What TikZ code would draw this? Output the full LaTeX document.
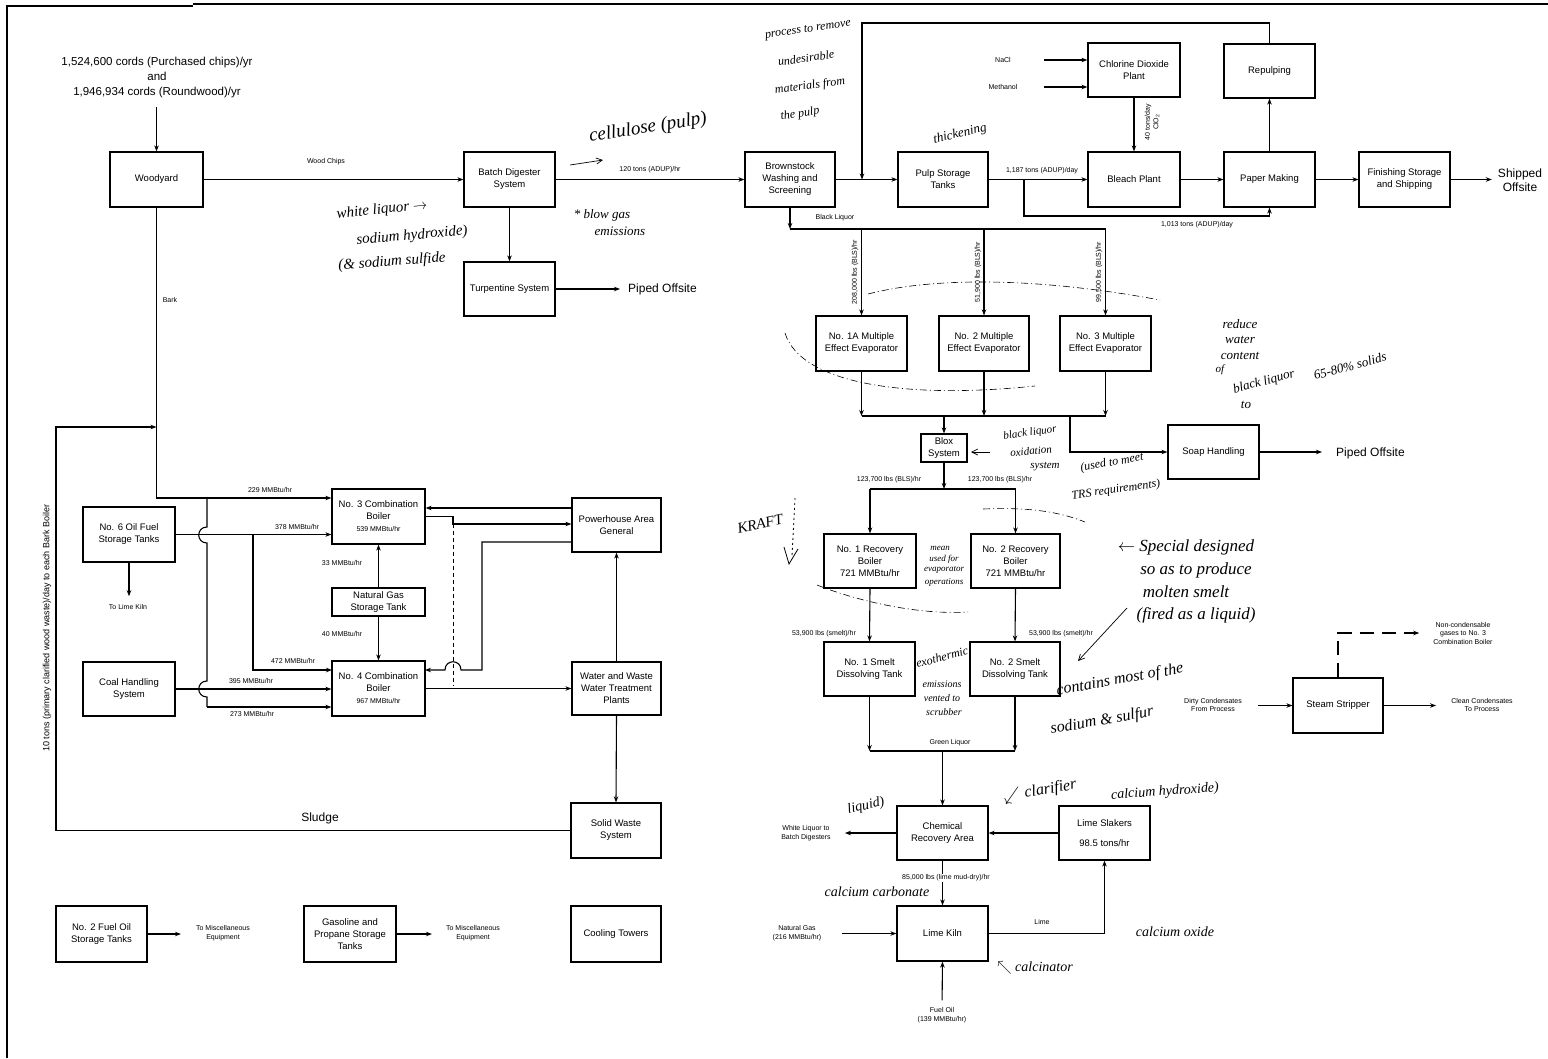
\documentclass[tikz,border=0pt]{standalone}
\usepackage{fontspec}
\setmainfont{Liberation Sans}
\newfontfamily\handfont{Liberation Serif}
\usetikzlibrary{arrows.meta}
\newcommand\bx[6]{\node[box,minimum width={#4-#2},minimum height={#5-#3}] (#1) at ({(#2+#4)/2},{(#3+#5)/2}) {#6};}
\newcommand\hsz[1]{\handfont\itshape\fontsize{#1}{#1}\selectfont}
\begin{document}
\begin{tikzpicture}[x=1pt,y=-1pt,
  box/.style={draw,line width=1.2pt,align=center,inner sep=0pt,font=\fontsize{9.5}{12}\selectfont},
  lbl/.style={font=\fontsize{7}{8.5}\selectfont,align=center,inner sep=0pt},
  big/.style={font=\fontsize{12}{14}\selectfont,align=center,inner sep=0pt},
  ln/.style={line width=1.1pt},
  ar/.style={line width=1.1pt,-{Stealth[length=6pt,width=4.5pt]}},
  hw/.style={font=\hsz{15},align=left,inner sep=0pt},
  hwline/.style={line width=0.6pt,dash pattern=on 7pt off 3pt on 1pt off 3pt},
  harrow/.style={line width=0.7pt,-{Straight Barb[length=6pt,width=6pt]}}
]
\useasboundingbox (0,0) rectangle (1548,1058);
\fill[white] (0,0) rectangle (1548,1058);
% frame
\draw[line width=1.2pt] (7,1058) -- (7,6) -- (193,6);
\draw[line width=2pt] (193,4) -- (1548,4);

% ---------- boxes ----------
\bx{wood}{110}{152}{203}{207}{Woodyard}
\bx{batch}{464}{152}{555}{207}{Batch Digester\\System}
\bx{turp}{464}{262}{555}{316}{Turpentine System}
\bx{brown}{745}{152}{835}{207}{Brownstock\\Washing and\\Screening}
\bx{pulp}{898}{152}{988}{207}{Pulp Storage\\Tanks}
\bx{cdp}{1088}{43}{1180}{97}{Chlorine Dioxide\\Plant}
\bx{bleach}{1088}{152}{1180}{207}{Bleach Plant}
\bx{repulp}{1224}{44}{1315}{98}{Repulping}
\bx{paper}{1224}{152}{1315}{207}{Paper Making}
\bx{finish}{1359}{152}{1450}{207}{Finishing Storage\\and Shipping}
\bx{evA}{816}{316}{907}{371}{No. 1A Multiple\\Effect Evaporator}
\bx{evB}{939}{316}{1029}{371}{No. 2 Multiple\\Effect Evaporator}
\bx{evC}{1060}{316}{1151}{371}{No. 3 Multiple\\Effect Evaporator}
\bx{blox}{921}{434}{967}{462}{Blox\\System}
\bx{soap}{1168}{425}{1259}{479}{Soap Handling}
\bx{recA}{824}{534}{916}{588}{No. 1 Recovery\\Boiler\\721 MMBtu/hr}
\bx{recB}{971}{534}{1060}{588}{No. 2 Recovery\\Boiler\\721 MMBtu/hr}
\bx{smA}{824}{642}{915}{696}{No. 1 Smelt\\Dissolving Tank}
\bx{smB}{970}{642}{1060}{696}{No. 2 Smelt\\Dissolving Tank}
\bx{chem}{897}{806}{988}{860}{Chemical\\Recovery Area}
\bx{slak}{1059}{806}{1150}{860}{Lime Slakers\\[8pt]98.5 tons/hr}
\bx{kiln}{897}{906}{988}{961}{Lime Kiln}
\bx{strip}{1293}{678}{1383}{733}{Steam Stripper}
\bx{oilsix}{83}{507}{175}{562}{No. 6 Oil Fuel\\Storage Tanks}
\bx{coal}{83}{662}{175}{716}{Coal Handling\\System}
\bx{cbA}{332}{489}{425}{544}{No. 3 Combination\\Boiler\\{\fontsize{7}{9}\selectfont 539 MMBtu/hr}}
\bx{ngst}{332}{588}{425}{616}{Natural Gas\\Storage Tank}
\bx{cbB}{332}{661}{425}{716}{No. 4 Combination\\Boiler\\{\fontsize{7}{9}\selectfont 967 MMBtu/hr}}
\bx{power}{572}{498}{661}{552}{Powerhouse Area\\General}
\bx{water}{572}{662}{661}{715}{Water and Waste\\Water Treatment\\Plants}
\bx{solid}{571}{803}{661}{858}{Solid Waste\\System}
\bx{fotwo}{56}{906}{147}{962}{No. 2 Fuel Oil\\Storage Tanks}
\bx{gas}{304}{906}{396}{962}{Gasoline and\\Propane Storage\\Tanks}
\bx{cool}{571}{906}{661}{962}{Cooling Towers}

% ---------- free texts ----------
\node[big,font=\fontsize{11.5}{15}\selectfont] (src) at (157,78) {1,524,600 cords (Purchased chips)/yr\\and\\1,946,934 cords (Roundwood)/yr};
\node[big,anchor=west] (poA) at (628,289) {Piped Offsite};
\node[big,anchor=west] (poB) at (1336,453) {Piped Offsite};
\node[big] (ship) at (1520,180) {Shipped\\Offsite};
\node[lbl] (nacl) at (1003,60) {NaCl};
\node[lbl] (meth) at (1003,87) {Methanol};
\node[lbl] at (326,162) {Wood Chips};
\node[lbl] at (650,170) {120 tons (ADUP)/hr};
\node[lbl] at (1042,171) {1,187 tons (ADUP)/day};
\node[lbl] at (1197,225) {1,013 tons (ADUP)/day};
\node[lbl,rotate=90] at (1152,122) {40 tons/day\\ClO\textsubscript{2}};
\node[lbl] at (835,218) {Black Liquor};
\node[lbl,rotate=90] at (855,272) {208,000 lbs (BLS)/hr};
\node[lbl,rotate=90] at (978,272) {51,900 lbs (BLS)/hr};
\node[lbl,rotate=90] at (1099,272) {99,500 lbs (BLS)/hr};
\node[lbl] at (889,480) {123,700 lbs (BLS)/hr};
\node[lbl] at (1000,480) {123,700 lbs (BLS)/hr};
\node[lbl] at (824,634) {53,900 lbs (smelt)/hr};
\node[lbl] at (1061,634) {53,900 lbs (smelt)/hr};
\node[lbl] at (950,743) {Green Liquor};
\node[lbl] (wl) at (806,833) {White Liquor to\\Batch Digesters};
\node[lbl] (natg) at (797,933) {Natural Gas\\(216 MMBtu/hr)};
\node[lbl] (fuel) at (942,1015) {Fuel Oil\\(139 MMBtu/hr)};
\node[lbl] (dirty) at (1213,705) {Dirty Condensates\\From Process};
\node[lbl] (clean) at (1482,705) {Clean Condensates\\To Process};
\node[lbl] (noncond) at (1463,633) {Non-condensable\\gases to No. 3\\Combination Boiler};
\node[lbl] at (170,300) {Bark};
\node[lbl] at (270,490) {229 MMBtu/hr};
\node[lbl] at (297,527) {378 MMBtu/hr};
\node[lbl] at (293,661) {472 MMBtu/hr};
\node[lbl] at (251,681) {395 MMBtu/hr};
\node[lbl] at (252,714) {273 MMBtu/hr};
\node[lbl] at (342,563) {33 MMBtu/hr};
\node[lbl] at (342,634) {40 MMBtu/hr};
\node[lbl] (tlk) at (128,607) {To Lime Kiln};
\node[lbl] (tmA) at (223,933) {To Miscellaneous\\Equipment};
\node[lbl] (tmB) at (473,933) {To Miscellaneous\\Equipment};
\node[font=\fontsize{12}{14}\selectfont] at (320,818) {Sludge};
\node[font=\fontsize{9}{10}\selectfont,rotate=90] at (47,628) {10 tons (primary clarified wood waste)/day to each Bark Boiler};

% ---------- connectors: top row ----------
\coordinate (srcb) at (156.5,107);
\draw[ar] (srcb) -- (wood.north);
\draw[ar] (wood.east) -- (batch.west);
\draw[ar] (batch.south) -- (turp.north);
\draw[ar,shorten >=8pt] (turp.east) -- (turp.east -| poA.west);
\draw[ar] (batch.east) -- (brown.west);
\draw[ar] (brown.east) -- (pulp.west);
\coordinate (topL) at (862,23);
\coordinate (jA) at (862,179.5);
\draw[ar] (repulp.north) |- (topL) -- (jA);
\draw[ar] (pulp.east) -- (bleach.west);
\coordinate (jB) at (1024,179.5);
\coordinate (jBb) at (1024,216);
\draw[ar] (jB) -- (jBb) -| (paper.south);
\draw[ar] (bleach.east) -- (paper.west);
\draw[ar] (paper.east) -- (finish.west);
\draw[ar,shorten >=6pt] (finish.east) -- (finish.east -| ship.west);
\draw[ar] (cdp.south) -- (bleach.north);
\draw[ar] (paper.north) -- (repulp.south);
\coordinate (naA) at (1044,60);
\coordinate (naB) at (1044,87);
\draw[ar] (naA) -- (naA -| cdp.west);
\draw[ar] (naB) -- (naB -| cdp.west);

% ---------- black liquor / evaporators ----------
\coordinate (bl) at (790,229);
\draw[ar] (brown.south) -- (bl);
\draw[ln] (bl) -- (bl -| evC.north);
\foreach \e in {evA,evB,evC} \draw[ar] (bl -| \e.north) -- (\e.north);
\coordinate (eb) at (862,416);
\foreach \e in {evA,evB,evC} \draw[ar] (\e.south) -- (eb -| \e.south);
\draw[ln] (eb -| evA.south) -- (eb -| evC.south);
\draw[ar] (eb -| blox.north) -- (blox.north);
\coordinate (sb) at (1070,416);
\draw[ar] (sb) |- (soap.west);
\draw[ar,shorten >=14pt] (soap.east) -- (soap.east -| poB.west);

% ---------- recovery ----------
\coordinate (rb) at (944,489);
\draw[ar] (blox.south) -- (rb);
\draw[ln] (rb -| recA.north) -- (rb -| recB.north);
\draw[ar] (rb -| recA.north) -- (recA.north);
\draw[ar] (rb -| recB.north) -- (recB.north);
\draw[ar] (recA.south) -- (smA.north);
\draw[ar] (recB.south) -- (smB.north);
\coordinate (gl) at (942.5,751);
\draw[ar] (smA.south) -- (gl -| smA.south);
\draw[ar] (smB.south) -- (gl -| smB.south);
\draw[ln] (gl -| smA.south) -- (gl -| smB.south);
\draw[ar] (gl) -- (chem.north);
\draw[ar,shorten >=14pt] (chem.west) -- (chem.west -| wl.east);
\draw[ar] (slak.west) -- (chem.east);
\draw[ar] (chem.south) -- (kiln.north);
\node[lbl,fill=white,inner sep=1pt] at (946,878) {85,000 lbs (lime mud-dry)/hr};
\draw[ar] (kiln.east) -| (slak.south);
\node[lbl] at (1042,922) {Lime};
\draw[ar,shorten <=20pt] (kiln.west -| natg.east) -- (kiln.west);
\draw[ar,shorten <=7pt] (fuel.north) -- (kiln.south);

% ---------- steam stripper ----------
\draw[ar,shorten <=16pt] (strip.west -| dirty.east) -- (strip.west);
\draw[ar,shorten >=15pt] (strip.east) -- (strip.east -| clean.west);
\coordinate (nc) at (1338,633);
\draw[ar,dash pattern=on 14pt off 8pt,shorten >=14pt] (strip.north) -- (nc) -- (nc -| noncond.west);

% ---------- power house area ----------
\coordinate (bk) at (156.5,498);
\draw[ar] (wood.south) -- (bk) -- (bk -| cbA.west);
\coordinate (slA) at (56,427);
\coordinate (slB) at (156.5,427);
\draw[ar] (solid.west) -| (slA) -- (slB);
\coordinate (bt) at (207,498);
\coordinate (bz) at (207,707);
\draw[ln] (bt) -- (207,527) .. controls (196,527) and (196,543) .. (207,543) -- (207,681) .. controls (196,681) and (196,697) .. (207,697) -- (bz);
\draw[ar] (bz) -- (bz -| cbB.west);
\draw[ar] (oilsix.east) -- (oilsix.east -| cbA.west);
\coordinate (bq) at (253,534.5);
\coordinate (eq) at (332,670);
\draw[ar] (bq) |- (eq);
\draw[ar] (coal.east) -- (coal.east -| cbB.west);
\draw[ar,shorten >=8pt] (oilsix.south) -- (oilsix.south |- tlk.north);
\draw[ar] (ngst.north) -- (cbA.south);
\draw[ar] (ngst.south) -- (cbB.north);
\coordinate (pA) at (572,508);
\draw[ar] (pA) -- (pA -| cbA.east);
\coordinate (qA) at (453,516.5);
\coordinate (qB) at (453,524);
\draw[ar] (cbA.east) -- (qA) -- (qB) -- (qB -| power.west);
\draw[line width=0.6pt,dash pattern=on 4pt off 3pt] (qA) -- (453,686);
\coordinate (pB) at (572,542);
\coordinate (pC) at (482,542);
\coordinate (pD) at (482,670);
\coordinate (pE) at (425,670);
\draw[ar] (pB) -- (pC) -- (pD) -- (461,670) .. controls (461,659) and (445,659) .. (445,670) -- (pE);
\draw[ar] (cbB.east) -- (water.west);
\draw[ar] (water.north) -- (power.south);
\draw[ar] (water.south) -- (solid.north);
\draw[ar,shorten >=15pt] (fotwo.east) -- (fotwo.east -| tmA.west);
\draw[ar,shorten >=14pt] (gas.east) -- (gas.east -| tmB.west);

% ---------- handwritten annotations ----------
\node[hw,rotate=9,font=\hsz{19}] at (648,128) {cellulose (pulp)};
\draw[harrow] (570,165) -- (603,160);
\node[hw,rotate=6,font=\hsz{15}] at (382,210) {white liquor $\rightarrow$};
\node[hw,rotate=5,font=\hsz{15}] at (412,236) {sodium hydroxide)};
\node[hw,rotate=4,font=\hsz{15}] at (392,262) {(\& sodium sulfide};
\node[hw,font=\hsz{13}] at (602,215) {* blow gas};
\node[hw,font=\hsz{13}] at (620,231) {emissions};
\node[hw,rotate=8,font=\hsz{12}] at (808,30) {process to remove};
\node[hw,rotate=8,font=\hsz{12}] at (806,58) {undesirable};
\node[hw,rotate=8,font=\hsz{12}] at (810,86) {materials from};
\node[hw,rotate=8,font=\hsz{12}] at (800,114) {the pulp};
\node[hw,rotate=13,font=\hsz{13}] at (960,134) {thickening};
\node[hw,font=\hsz{13}] at (1240,324) {reduce};
\node[hw,font=\hsz{13}] at (1240,340) {water};
\node[hw,font=\hsz{13}] at (1240,356) {content};
\node[hw,font=\hsz{11}] at (1220,370) {of};
\node[hw,rotate=15,font=\hsz{13}] at (1264,382) {black liquor};
\node[hw,rotate=15,font=\hsz{13}] at (1350,366) {65-80\% solids};
\node[hw,font=\hsz{13}] at (1246,405) {to};
\draw[harrow] (990,452) -- (971,452);
\node[hw,rotate=8,font=\hsz{11}] at (1030,433) {black liquor};
\node[hw,rotate=5,font=\hsz{11}] at (1031,451) {oxidation};
\node[hw,font=\hsz{11}] at (1045,467) {system};
\node[hw,rotate=10,font=\hsz{12}] at (1112,463) {(used to meet};
\node[hw,rotate=8,font=\hsz{12}] at (1116,490) {TRS requirements)};
\node[hw,rotate=12,font=\hsz{15}] at (760,524) {KRAFT};
\draw[line width=0.8pt,dash pattern=on 2pt off 3pt] (795,498) -- (792,556);
\draw[line width=0.8pt] (784,547) -- (789,564) -- (798,549);
\node[hw,font=\hsz{9}] at (940,548) {mean};
\node[hw,font=\hsz{9}] at (944,559) {used for};
\node[hw,font=\hsz{9}] at (944,570) {evaporator};
\node[hw,font=\hsz{9}] at (944,582) {operations};
\node[hw,font=\hsz{17}] at (1186,547) {$\leftarrow$ Special designed};
\node[hw,font=\hsz{17}] at (1196,570) {so as to produce};
\node[hw,font=\hsz{17}] at (1186,592) {molten smelt};
\node[hw,font=\hsz{17}] at (1196,615) {(fired as a liquid)};
\node[hw,rotate=15,font=\hsz{12}] at (942,657) {exothermic};
\node[hw,font=\hsz{10}] at (942,684) {emissions};
\node[hw,font=\hsz{10}] at (942,698) {vented to};
\node[hw,font=\hsz{10}] at (944,712) {scrubber};
\draw[harrow] (1127,608) -- (1078,661);
\node[hw,rotate=10,font=\hsz{16}] at (1120,680) {contains most of the};
\node[hw,rotate=10,font=\hsz{16}] at (1102,721) {sodium \& sulfur};
\node[hw,rotate=12,font=\hsz{14}] at (866,806) {liquid)};
\node[hw,rotate=10,font=\hsz{16}] at (1040,791) {$\swarrow$ clarifier};
\node[hw,rotate=4,font=\hsz{14}] at (1165,792) {calcium hydroxide)};
\node[hw,font=\hsz{14}] at (877,892) {calcium carbonate};
\node[hw,font=\hsz{14}] at (1175,932) {calcium oxide};
\node[hw,font=\hsz{14}] at (1035,968) {$\nwarrow$ calcinator};
% hand-drawn arcs
\draw[hwline] (868,294) .. controls (930,278) and (1030,276) .. (1160,300);
\draw[hwline] (785,333) .. controls (800,382) and (900,400) .. (1035,386);
\draw[hwline] (817,585) .. controls (860,602) and (920,615) .. (968,612);
\draw[hwline] (983,509) .. controls (1030,507) and (1060,512) .. (1085,522);
\end{tikzpicture}
\end{document}
